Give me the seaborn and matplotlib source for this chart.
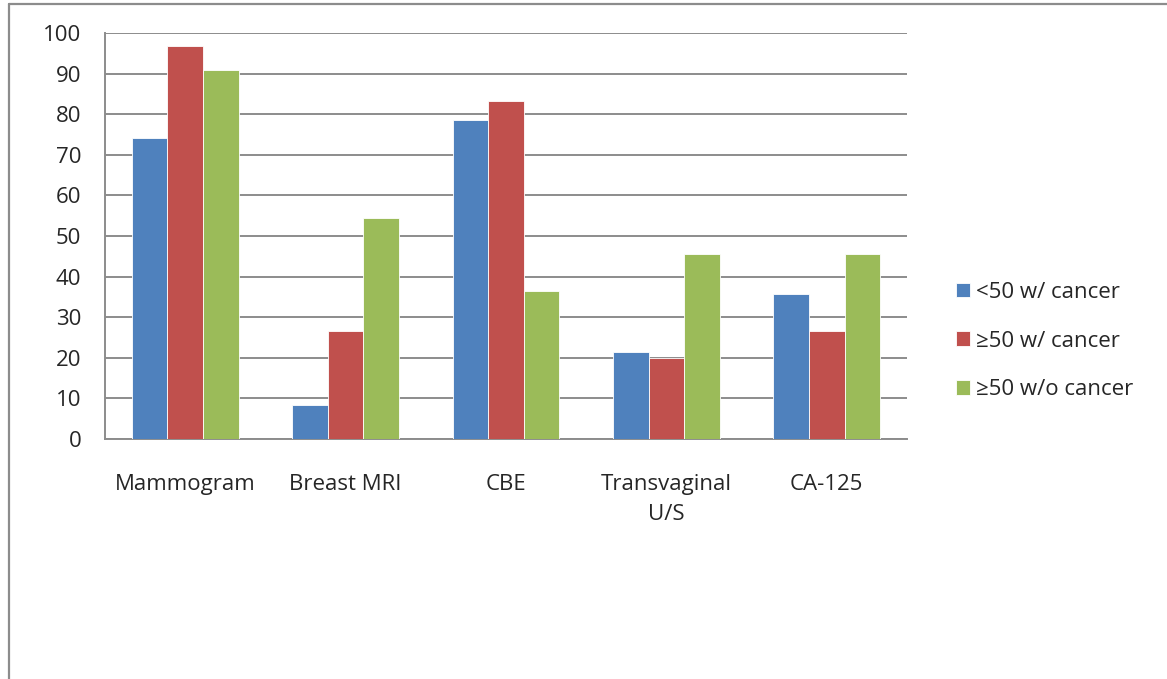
import numpy as np
import pandas as pd
import seaborn as sns
import matplotlib.pyplot as plt
from matplotlib.lines import Line2D

# data
tests = ["Mammogram", "Breast MRI", "CBE", "Transvaginal\nU/S", "CA-125"]
groups = ["<50 w/ cancer", "\u226550 w/ cancer", "\u226550 w/o cancer"]
under50_cancer = [74.2, 8.3, 78.6, 21.4, 35.7]
over50_cancer = [96.7, 26.7, 83.3, 20.0, 26.7]
over50_no_cancer = [90.9, 54.5, 36.4, 45.5, 45.5]
colors = ["#4F81BD", "#C0504D", "#9BBB59"]

sns.set_style("white")
plt.rcParams['font.family'] = ['Open Sans', 'DejaVu Sans']
FS = 16

df = pd.DataFrame({
    "test": tests * 3,
    "group": np.repeat(groups, len(tests)),
    "pct": under50_cancer + over50_cancer + over50_no_cancer,
})

fig = plt.figure(figsize=(11.67, 6.79), dpi=100)
ax = fig.add_axes([105 / 1167, 1 - 439 / 679, 802 / 1167, 406 / 679])

sns.barplot(data=df, x="test", y="pct", hue="group", palette=colors, saturation=1,
            width=0.667, gap=0, errorbar=None, ax=ax,
            edgecolor="white", linewidth=0.6, zorder=3)

grid_col = "#8C8C8C"
ax.set_ylim(0, 100)
ax.set_xlim(-0.5, len(tests) - 0.5)
ax.set_yticks(np.arange(0, 101, 10))
ax.yaxis.grid(True, color=grid_col, linewidth=1.4, zorder=0)
ax.set_axisbelow(True)
ax.set_xlabel("")
ax.set_ylabel("")

# category boundary ticks on x, labels centred under groups
ax.set_xticks(np.arange(-0.5, len(tests)), minor=True)
ax.tick_params(axis="x", which="minor", length=7, width=1.4, color=grid_col, direction="out")
ax.tick_params(axis="x", which="major", length=0, pad=25, labelsize=FS)
ax.tick_params(axis="y", length=7, width=1.4, color=grid_col, direction="out",
               labelsize=FS, pad=10)
for lab in ax.get_xticklabels():
    lab.set_linespacing(1.55)
    lab.set_verticalalignment("top")

for side in ["top", "right"]:
    ax.spines[side].set_visible(False)
for side in ["left", "bottom"]:
    ax.spines[side].set_color(grid_col)
    ax.spines[side].set_linewidth(1.4)

handles, labels = ax.get_legend_handles_labels()
ax.legend(handles, labels, loc="center left", bbox_to_anchor=(956 / 1167, 1 - 341 / 679),
          bbox_transform=fig.transFigure, frameon=False, fontsize=FS,
          handlelength=0.62, handleheight=0.62, handletextpad=0.3, labelspacing=1.25,
          borderaxespad=0, borderpad=0)

# outer chart frame (only left and top edges visible)
fig.add_artist(Line2D([9 / 1167, 9 / 1167], [0, 1 - 4 / 679], color=grid_col, linewidth=1.6,
                      transform=fig.transFigure))
fig.add_artist(Line2D([9 / 1167, 1.01], [1 - 4 / 679, 1 - 4 / 679], color=grid_col, linewidth=1.6,
                      transform=fig.transFigure))

fig.savefig("out.png", dpi=100)
